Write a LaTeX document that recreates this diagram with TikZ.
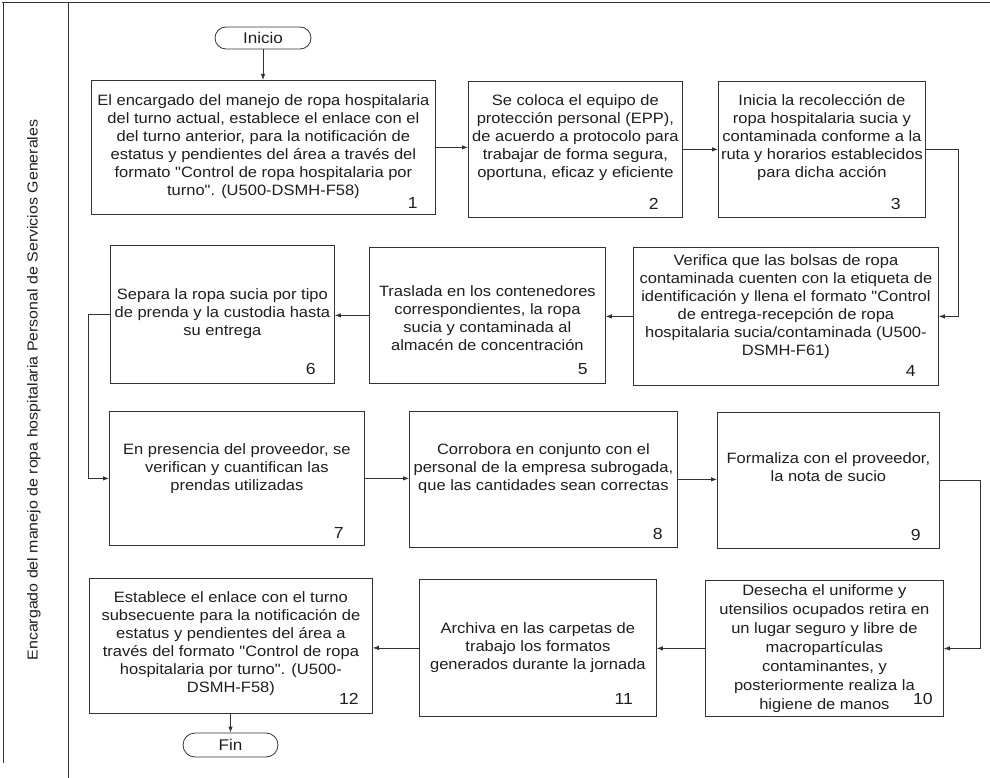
\documentclass[tikz,border=0pt]{standalone}
\usepackage{fontspec}
\setmainfont{Liberation Sans}[FakeStretch=1.1]
\newfontfamily\bodyfont{Liberation Sans}[FakeStretch=1.1]
\usetikzlibrary{arrows.meta,shapes.misc}
\definecolor{ln}{HTML}{333333}
\definecolor{tx}{HTML}{1E1E1E}
\tikzset{
  stepbox/.style={draw=ln, line width=0.8pt, anchor=north west, inner sep=0pt},
  txt/.style={align=center, text=tx, font=\bodyfont\fontsize{15}{18}\selectfont, inner sep=0pt},
  num/.style={text=tx, font=\bodyfont\fontsize{16}{18}\selectfont, inner sep=0pt},
  term/.style={draw=ln, line width=0.8pt, rounded rectangle, text=tx,
    font=\bodyfont\fontsize{15.5}{18}\selectfont, inner sep=0pt},
  arr/.style={draw=ln, line width=0.8pt, -{Latex[length=6pt,width=4.5pt]}},
  frame/.style={draw=ln, line width=0.8pt}
}
\begin{document}
\begin{tikzpicture}[x=1pt,y=-1pt]
\useasboundingbox (0,0) rectangle (990,778);
% frame
\draw[frame] (2,2) -- (990,2);
\draw[frame] (3,2) -- (3,763);
\draw[frame] (68,2) -- (68,778);
\node[rotate=90, text=tx, font=\bodyfont\fontsize{14.5}{17}\selectfont, inner sep=0pt] (lane) at (34,390)
  {Encargado del manejo de ropa hospitalaria Personal de Servicios Generales};

% terminals
\node[term, minimum width=96pt, minimum height=22pt] (ini) at (263,38) {Inicio};
\node[term, minimum width=95pt, minimum height=24pt] (fin) at (230.5,745) {Fin};

% boxes
\node[stepbox, minimum width=344pt, minimum height=134pt] (b1) at (91,80) {};
\node[stepbox, minimum width=214pt, minimum height=136pt] (b2) at (468,81) {};
\node[stepbox, minimum width=207pt, minimum height=136pt] (b3) at (718,81) {};
\node[stepbox, minimum width=305pt, minimum height=138pt] (b4) at (633,247) {};
\node[stepbox, minimum width=236pt, minimum height=136pt] (b5) at (369,247) {};
\node[stepbox, minimum width=224pt, minimum height=138pt] (b6) at (110,245) {};
\node[stepbox, minimum width=255pt, minimum height=134pt] (b7) at (109,411) {};
\node[stepbox, minimum width=268pt, minimum height=136pt] (b8) at (409,411) {};
\node[stepbox, minimum width=222pt, minimum height=136pt] (b9) at (717,412) {};
\node[stepbox, minimum width=238pt, minimum height=136pt] (b10) at (705,580) {};
\node[stepbox, minimum width=237pt, minimum height=137pt] (b11) at (419,579) {};
\node[stepbox, minimum width=283pt, minimum height=135pt] (b12) at (89,578) {};

% texts
\node[txt] (t1) at ([yshift=1pt]b1.center) {El encargado del manejo de ropa hospitalaria\\del turno actual, establece el enlace con el\\del turno anterior, para la notificación de\\estatus y pendientes del área a través del\\formato "Control de ropa hospitalaria por\\turno". (U500-DSMH-F58)};
\node[txt] (t2) at ([yshift=12pt]b2.center) {Se coloca el equipo de\\protección personal (EPP),\\de acuerdo a protocolo para\\trabajar de forma segura,\\oportuna, eficaz y eficiente};
\node[txt] (t3) at ([yshift=12pt]b3.center) {Inicia la recolección de\\ropa hospitalaria sucia y\\contaminada conforme a la\\ruta y horarios establecidos\\para dicha acción};
\node[txt] (t4) at ([yshift=10pt]b4.center) {Verifica que las bolsas de ropa\\contaminada cuenten con la etiqueta de\\identificación y llena el formato "Control\\de entrega-recepción de ropa\\hospitalaria sucia/contaminada (U500-\\DSMH-F61)};
\node[txt] (t5) at ([yshift=-3pt]b5.center) {Traslada en los contenedores\\correspondientes, la ropa\\sucia y contaminada al\\almacén de concentración};
\node[txt] (t6) at ([yshift=1pt]b6.center) {Separa la ropa sucia por tipo\\de prenda y la custodia hasta\\su entrega};
\node[txt] (t7) at ([yshift=10pt]b7.center) {En presencia del proveedor, se\\verifican y cuantifican las\\prendas utilizadas};
\node[txt] (t8) at ([yshift=11pt]b8.center) {Corrobora en conjunto con el\\personal de la empresa subrogada,\\que las cantidades sean correctas};
\node[txt] (t9) at ([yshift=13pt]b9.center) {Formaliza con el proveedor,\\la nota de sucio};
\node[txt, font=\bodyfont\fontsize{15}{19}\selectfont] (t10) at (b10.center) {Desecha el uniforme y\\utensilios ocupados retira en\\un lugar seguro y libre de\\macropartículas\\contaminantes, y\\posteriormente realiza la\\higiene de manos};
\node[txt] (t11) at (b11.center) {Archiva en las carpetas de\\trabajo los formatos\\generados durante la jornada};
\node[txt] (t12) at ([yshift=2pt]b12.center) {Establece el enlace con el turno\\subsecuente para la notificación de\\estatus y pendientes del área a\\través del formato "Control de ropa\\hospitalaria por turno". (U500-\\DSMH-F58)};

% numbers
\node[num] (n1) at ([shift={(-23,-12)}]b1.south east) {1};
\node[num] (n2) at ([shift={(-29,-14)}]b2.south east) {2};
\node[num] (n3) at ([shift={(-30,-14)}]b3.south east) {3};
\node[num] (n4) at ([shift={(-28,-15)}]b4.south east) {4};
\node[num] (n5) at ([shift={(-23,-15)}]b5.south east) {5};
\node[num] (n6) at ([shift={(-24,-15)}]b6.south east) {6};
\node[num] (n7) at ([shift={(-26,-13)}]b7.south east) {7};
\node[num] (n8) at ([shift={(-20,-14)}]b8.south east) {8};
\node[num] (n9) at ([shift={(-24,-14)}]b9.south east) {9};
\node[num] (n10) at ([shift={(-21,-18)}]b10.south east) {10};
\node[num] (n11) at ([shift={(-33,-18)}]b11.south east) {11};
\node[num] (n12) at ([shift={(-24,-15)}]b12.south east) {12};

% connector bends
\coordinate (c34) at (958,0);
\coordinate (c67) at (88,0);
\coordinate (c910) at (980,0);

% connectors
\draw[arr] (ini.south) -- (ini.south |- b1.north);
\draw[arr] (b1.east) -- (b1.east -| b2.west);
\draw[arr] (b2.east) -- (b2.east -| b3.west);
\draw[arr] (b3.east) -- (b3.east -| c34) |- (b4.east);
\draw[arr] (b4.west) -- (b4.west -| b5.east);
\draw[arr] (b5.west) -- (b5.west -| b6.east);
\draw[arr] (b6.west) -- (b6.west -| c67) |- (b7.west);
\draw[arr] (b7.east) -- (b7.east -| b8.west);
\draw[arr] (b8.east) -- (b8.east -| b9.west);
\draw[arr] (b9.east) -- (b9.east -| c910) |- (b10.east);
\draw[arr] (b10.west) -- (b10.west -| b11.east);
\draw[arr] (b11.west) -- (b11.west -| b12.east);
\draw[arr] (b12.south -| fin.north) -- (fin.north);
\end{tikzpicture}
\end{document}
